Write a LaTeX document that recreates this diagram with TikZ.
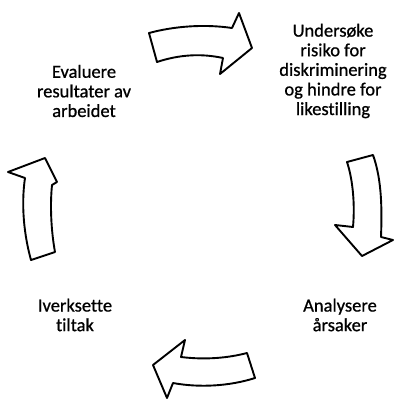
\documentclass[tikz,border=0pt]{standalone}
\usepackage{fontspec}
\setmainfont[Ligatures={NoCommon}]{Carlito}
\newfontfamily\lblfont[Ligatures={NoCommon},FakeBold=0.8]{Carlito}
\begin{document}
\begin{tikzpicture}[x=1pt,y=-1pt,
  arrowshape/.style={draw=black,fill=white,line width=1.9pt,line join=round},
  lbl/.style={align=center,inner sep=0pt,font=\lblfont\fontsize{18.5}{19.6}\selectfont}]
\useasboundingbox (0,0) rectangle (395,400);
% top arrow
\draw[arrowshape] (149,33) .. controls (175,26) and (205,24) .. (232,28)
  -- (239,13) -- (252,48) -- (220,74) -- (223,58)
  .. controls (200,53) and (178,55) .. (157,62) -- cycle;
% right arrow
\draw[arrowshape] (347,162) -- (373,155) .. controls (382,180) and (382,210) .. (381,237)
  -- (393,240) -- (362,256) -- (335,225) -- (353,227)
  .. controls (355,205) and (353,180) .. (347,162) -- cycle;
% bottom arrow
\draw[arrowshape] (247,353) -- (255,378) .. controls (230,386) and (200,388) .. (173,383)
  -- (167,398) -- (153,365) -- (185,340) -- (181,357)
  .. controls (205,360) and (228,358) .. (247,353) -- cycle;
% left arrow
\draw[arrowshape] (31,260) -- (55,252) .. controls (51,230) and (50,205) .. (52,185)
  -- (57,182) -- (45,158) -- (8,172) -- (25,178)
  .. controls (21,205) and (24,235) .. (31,260) -- cycle;
\node[lbl] (eval) at (84,91) {Evaluere\\resultater av\\arbeidet};
\node[lbl] (unders) at (333,71) {Undersøke\\risiko for\\diskriminering\\og hindre for\\likestilling};
\node[lbl] (anal) at (340,315) {Analysere\\årsaker};
\node[lbl] (iverk) at (75,315) {Iverksette\\tiltak};
\end{tikzpicture}
\end{document}
